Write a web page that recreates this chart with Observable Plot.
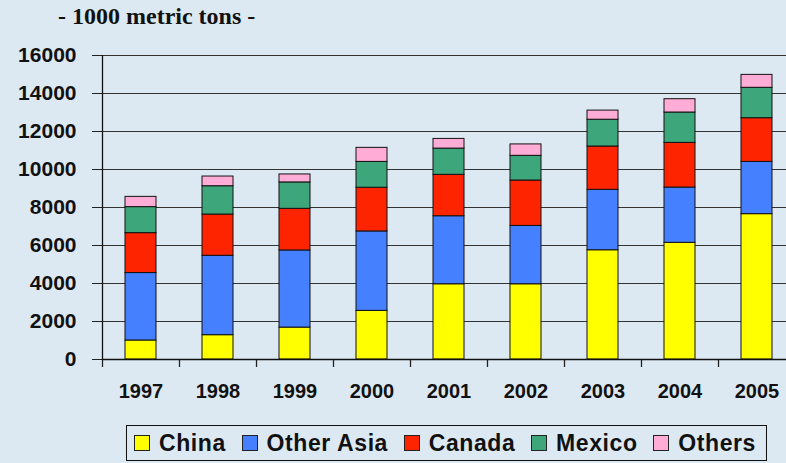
<!DOCTYPE html>
<html>
<head>
<meta charset="utf-8">
<script src="https://cdn.jsdelivr.net/npm/d3@7"></script>
<script src="https://cdn.jsdelivr.net/npm/@observablehq/plot@0.6"></script>
<style>
  html, body { margin: 0; padding: 0; }
  body { width: 786px; height: 463px; overflow: hidden; background: #DDE9F2; position: relative; font-family: "Liberation Sans", Arial, sans-serif; }
  #title { position: absolute; left: 58px; top: 3px; font-family: "Liberation Serif", "Times New Roman", serif; font-weight: bold; font-size: 24px; color: #111; white-space: nowrap; }
  #chart { position: absolute; left: 0; top: 0; width: 795px; }
  #chart svg { max-width: none !important; }
  #legend { position: absolute; left: 126px; top: 425px; width: 641px; height: 36px; border: 1.5px solid #111; box-sizing: border-box; display: flex; align-items: center; justify-content: space-between; padding-left: 7px; padding-right: 10px; overflow: hidden; }
  .item { display: flex; align-items: center; flex-shrink: 0; white-space: nowrap; font-weight: bold; font-size: 23px; letter-spacing: 0.6px; color: #111; }
  .sw { width: 14px; height: 14px; border: 1.2px solid #222; margin-right: 9px; flex-shrink: 0; }
</style>
</head>
<body>
<div id="title">- 1000 metric tons -</div>
<div id="chart"></div>
<div id="legend"></div>
<script>
const years = ["1997", "1998", "1999", "2000", "2001", "2002", "2003", "2004", "2005"];
const seriesNames = ["China", "Other Asia", "Canada", "Mexico", "Others"];
const china     = [1000, 1280, 1680, 2560, 3960, 3960, 5750, 6140, 7650];
const otherAsia = [3550, 4180, 4060, 4180, 3580, 3070, 3180, 2910, 2750];
const canada    = [2100, 2170, 2190, 2300, 2180, 2390, 2280, 2350, 2300];
const mexico    = [1370, 1490, 1390, 1360, 1380, 1300, 1410, 1600, 1600];
const others    = [ 540,  510,  420,  740,  510,  600,  480,  700,  680];
const yTicks = [0, 2000, 4000, 6000, 8000, 10000, 12000, 14000, 16000];
const colors = ["#FFFF00", "#4480FF", "#FF2400", "#3EA67B", "#FFADD6"];

const seriesValues = [china, otherAsia, canada, mexico, others];
const data = [];
years.forEach((yr, i) => {
  seriesNames.forEach((s, j) => data.push({year: yr, series: s, value: seriesValues[j][i]}));
});

const chart = Plot.plot({
  width: 795,
  height: 410,
  marginLeft: 102,
  marginRight: 0,
  marginTop: 55,
  marginBottom: 51,
  style: {background: "transparent", fontFamily: "Liberation Sans, Arial, sans-serif", color: "#111", maxWidth: "none"},
  x: {domain: years, paddingInner: 0.6, paddingOuter: 0.3, label: null},
  y: {domain: [0, 16000], label: null},
  color: {domain: seriesNames, range: colors},
  marks: [
    Plot.ruleY(yTicks.filter(d => d > 0), {y: d => d, stroke: "#333", strokeWidth: 1.2}),
    Plot.barY(data, {x: "year", y: "value", fill: "series", stroke: "#111", strokeWidth: 1}),
    Plot.ruleX(years, {x: d => d, dx: -38.5, y1: 0, y2: -420, stroke: "#222", strokeWidth: 1.3, clip: false}),
    Plot.ruleY([0], {stroke: "#111", strokeWidth: 1.3}),
    Plot.axisY({ticks: yTicks, tickSize: 10, tickPadding: 16, tickFormat: d => String(d), fontSize: 21, fontWeight: "bold", label: null, stroke: "#222"}),
    Plot.axisX({tickSize: 0, tickPadding: 24, fontSize: 20, fontWeight: "bold", label: null}),
    Plot.ruleX([years[0]], {x: d => d, dx: -38.5, y1: 0, y2: 16000, stroke: "#111", strokeWidth: 1.3})
  ]
});
chart.style.maxWidth = "none";
document.getElementById("chart").appendChild(chart);

const legend = document.getElementById("legend");
seriesNames.forEach((s, j) => {
  const item = document.createElement("div");
  item.className = "item";
  const sw = document.createElement("div");
  sw.className = "sw";
  sw.style.background = colors[j];
  const t = document.createElement("span");
  t.textContent = s;
  item.appendChild(sw);
  item.appendChild(t);
  legend.appendChild(item);
});
</script>
</body>
</html>
